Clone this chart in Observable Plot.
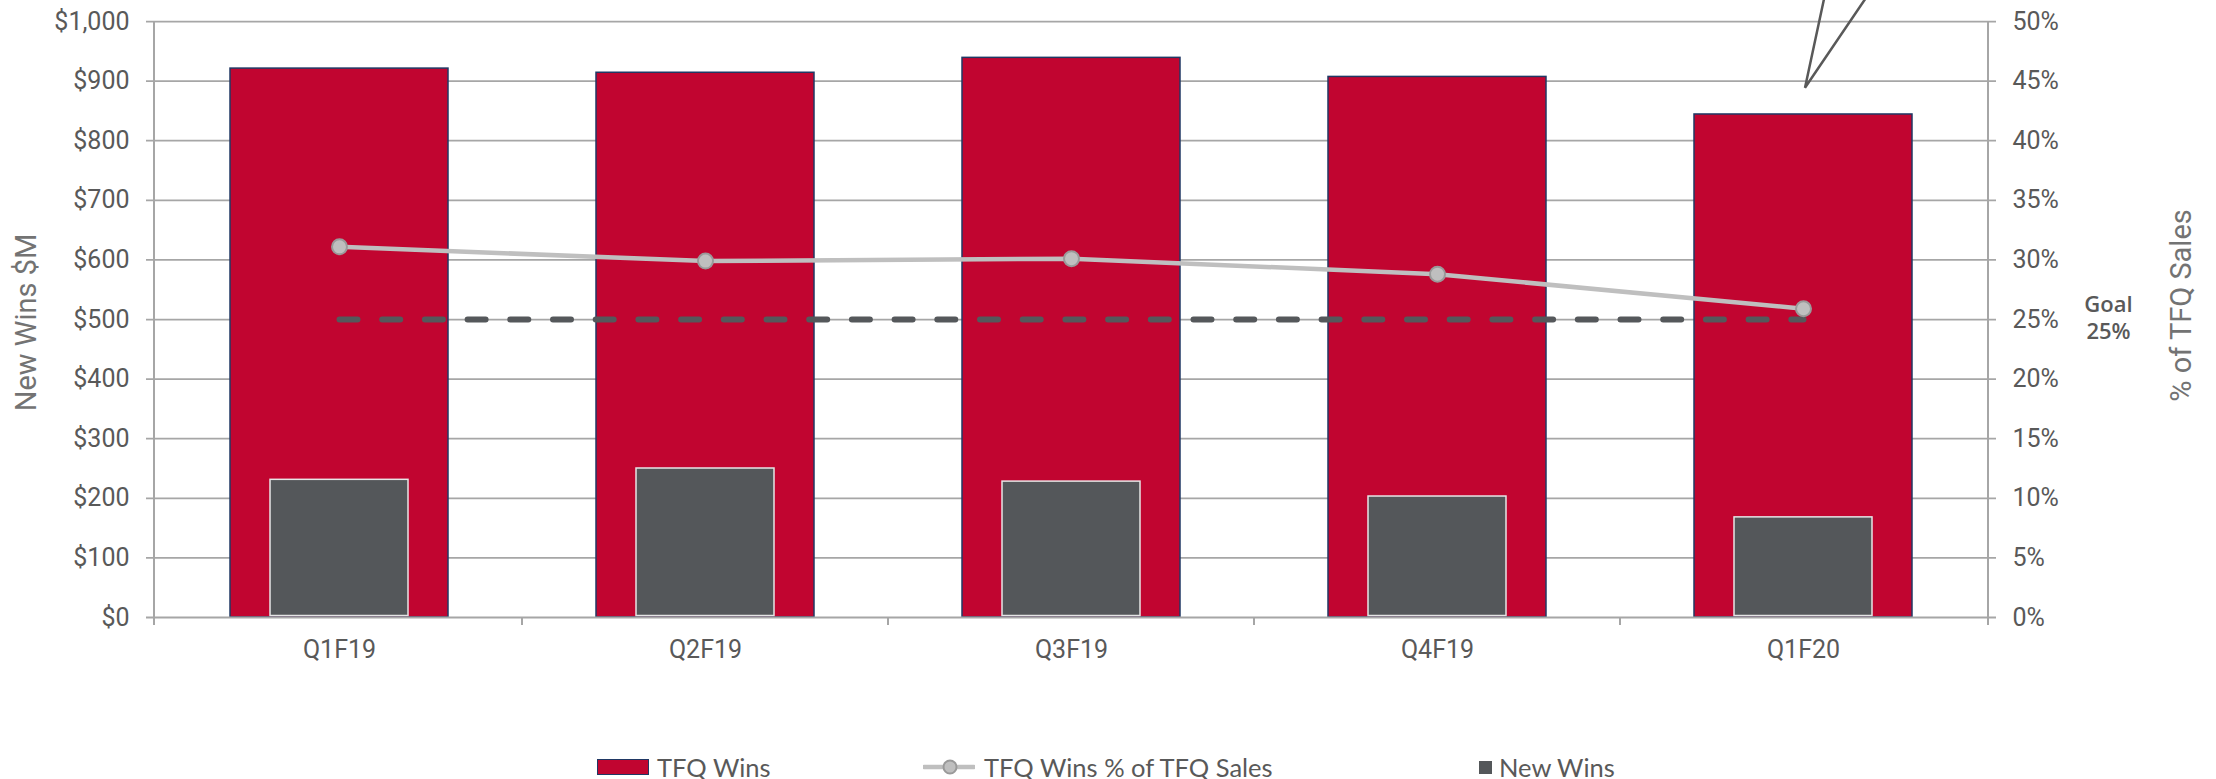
<!DOCTYPE html>
<html>
<head>
<meta charset="utf-8">
<script src="https://cdn.jsdelivr.net/npm/d3@7"></script>
<script src="https://cdn.jsdelivr.net/npm/@observablehq/plot@0.6"></script>
<style>
  html, body { margin: 0; padding: 0; background: #fff; }
  #wrap { width: 2216px; }
  #legend { position: relative; width: 2216px; height: 79px; font-family: Lato, "Open Sans", sans-serif; font-size: 25.5px; color: #595959; }
  .item { position: absolute; top: 52px; height: 30px; display: flex; align-items: center; white-space: nowrap; }
</style>
</head>
<body>
<div id="wrap"></div>
<script>
// ---- data ----
const categories = ["Q1F19", "Q2F19", "Q3F19", "Q4F19", "Q1F20"];
const tfqWins    = [921, 914, 939, 907, 844];       // $M
const newWins    = [231, 250, 228, 203, 168];       // $M
const pctOfSales = [31.1, 29.9, 30.1, 28.8, 25.9];  // %
const goalPct    = 25;                              // %
const dollarTicks = [0, 100, 200, 300, 400, 500, 600, 700, 800, 900, 1000];
const dollarMax = 1000;
const pctMax = 50;
const leftTitle = "New Wins $M";
const rightTitle = "% of TFQ Sales";
const goalLabel = "Goal\n25%";
const legendLabels = ["TFQ Wins", "TFQ Wins % of TFQ Sales", "New Wins"];
const calloutCategory = "Q1F20";
const calloutTipValue = 888;     // $M where the callout pointer ends
const calloutTopValue = 1060;    // $M above the frame
const calloutSpread = [0.06, 0.19]; // fraction of a band step

const pctToDollar = p => p * dollarMax / pctMax;
const rows = categories.map((q, i) => ({q, tfq: tfqWins[i], nw: newWins[i], pct: pctOfSales[i]}));

const RED = "#c10530", NAVY = "#203864", DARK = "#54575a", GRID = "#a6a6a6", LINE = "#bfbfbf", TXT = "#595959";

function bandInfo(scales) {
  const xs = scales.x;
  const bw = typeof xs.bandwidth === "function" ? xs.bandwidth() : scales.scales.x.bandwidth;
  const step = typeof xs.step === "function" ? xs.step() : scales.scales.x.step;
  return {xs, bw, step};
}

// frame lines on both sides and category boundary ticks
function frameAndTicks(index, scales, values, dim) {
  const {xs, bw, step} = bandInfo(scales);
  const y0 = scales.y(0);
  const g = d3.create("svg:g").attr("stroke", GRID).attr("stroke-width", 2);
  const left = dim.marginLeft, right = dim.width - dim.marginRight;
  [left, right].forEach(x => g.append("line").attr("x1", x).attr("x2", x).attr("y1", dim.marginTop).attr("y2", y0 + 8));
  categories.slice(1).forEach(c => {
    const bx = xs(c) - (step - bw) / 2;
    g.append("line").attr("x1", bx).attr("x2", bx).attr("y1", y0).attr("y2", y0 + 8);
  });
  return g.node();
}

// callout pointer (speech-bubble tail) above the last bar
function callout(index, scales, values, dim) {
  const {xs, bw, step} = bandInfo(scales);
  const tx = xs(calloutCategory) + bw / 2 + 2;
  const ty = scales.y(calloutTipValue);
  const topY = scales.y(calloutTopValue);
  const g = d3.create("svg:g").attr("stroke", "#595959").attr("stroke-width", 2.5).attr("fill", "none");
  g.append("path").attr("d", `M${tx + calloutSpread[0] * step},${topY}L${tx},${ty}L${tx + calloutSpread[1] * step},${topY}`)
    .attr("stroke-linejoin", "miter");
  return g.node();
}

const chart = Plot.plot({
  width: 2216,
  height: 700,
  marginTop: 21,
  marginBottom: 83,
  marginLeft: 154,
  marginRight: 228,
  style: {fontFamily: "Roboto, sans-serif", fontSize: "25px", background: "white", overflow: "visible", color: TXT},
  x: {domain: categories, paddingInner: 0.405, paddingOuter: 0.2025},
  y: {domain: [0, dollarMax]},
  marks: [
    Plot.ruleY(dollarTicks.filter(d => d > 0), {y: d => d, stroke: GRID, strokeWidth: 1.75, insetLeft: -8, insetRight: -8}),
    Plot.barY(rows, {x: "q", y: "tfq", fill: RED, stroke: NAVY, strokeWidth: 1.5}),
    Plot.barY(rows, {x: "q", y: "nw", fill: DARK, stroke: "#e6e6e6", strokeWidth: 1.5, insetLeft: 40, insetRight: 40, insetBottom: 1.5}),
    Plot.ruleY([0], {stroke: GRID, strokeWidth: 2, insetLeft: -8, insetRight: -8}),
    frameAndTicks,
    Plot.line(categories, {x: d => d, y: () => pctToDollar(goalPct), stroke: "#55585b", strokeWidth: 6, strokeDasharray: "18,24.7", strokeLinecap: "round"}),
    Plot.line(rows, {x: "q", y: d => pctToDollar(d.pct), stroke: LINE, strokeWidth: 4.5}),
    Plot.dot(rows, {x: "q", y: d => pctToDollar(d.pct), r: 7.5, fill: LINE, stroke: "#9a9a9a", strokeWidth: 2}),
    Plot.axisY({ticks: dollarTicks, tickSize: 0, tickPadding: 25, fontSize: 25, fill: TXT, label: null,
      tickFormat: d => "$" + d3.format(",")(d)}),
    Plot.axisY({anchor: "right", ticks: dollarTicks, tickSize: 0, tickPadding: 24, fontSize: 25, fill: TXT, label: null,
      tickFormat: d => Math.round(d * pctMax / dollarMax) + "%"}),
    Plot.axisX({tickSize: 0, tickPadding: 23, fontSize: 25, fill: TXT, label: null}),
    Plot.text([leftTitle], {text: d => d, frameAnchor: "left", textAnchor: "middle", dx: -128, dy: 3, rotate: -90, fontSize: 29, fill: "#737373"}),
    Plot.text([rightTitle], {text: d => d, frameAnchor: "right", textAnchor: "middle", dx: 193, dy: -14, rotate: -90, fontSize: 29, fill: "#737373"}),
    Plot.text([goalLabel], {text: d => d, y: () => pctToDollar(goalPct), frameAnchor: "right", textAnchor: "middle", dx: 120, dy: -3, fontSize: 22, fontWeight: 600, fontFamily: "Open Sans", lineHeight: 1.25, fill: TXT}),
    callout
  ]
});
document.getElementById("wrap").appendChild(chart);

// ---- legend (HTML, below the SVG) ----
const legend = document.createElement("div");
legend.id = "legend";
const items = [
  {left: 597, symbol: `<div style="width:52px;height:16px;box-sizing:border-box;border:1.5px solid ${NAVY};background:${RED}"></div>`, gap: 8},
  {left: 923, symbol: `<svg width="52" height="16"><line x1="1" y1="8" x2="51" y2="8" stroke="${LINE}" stroke-width="4.5" stroke-linecap="round"/><circle cx="27" cy="8" r="6.5" fill="${LINE}" stroke="#9a9a9a" stroke-width="2"/></svg>`, gap: 9},
  {left: 1479, symbol: `<div style="width:13px;height:13px;background:${DARK}"></div>`, gap: 7}
];
items.forEach((it, i) => {
  const d = document.createElement("div");
  d.className = "item";
  d.style.left = it.left + "px";
  d.innerHTML = it.symbol + `<span style="margin-left:${it.gap}px">${legendLabels[i]}</span>`;
  legend.appendChild(d);
});
document.getElementById("wrap").appendChild(legend);
</script>
</body>
</html>
